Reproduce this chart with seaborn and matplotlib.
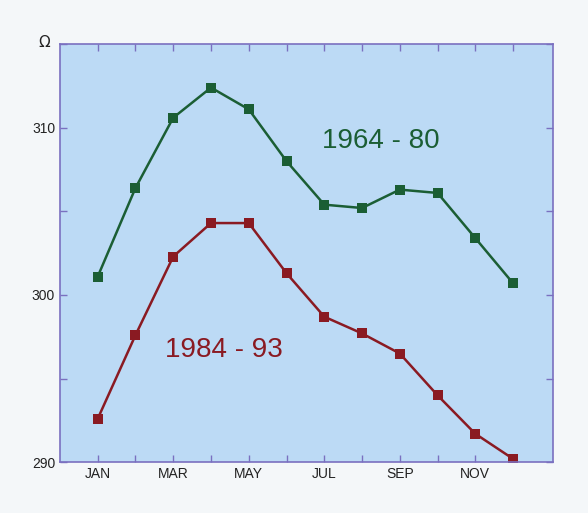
import matplotlib
matplotlib.use("Agg")
import matplotlib.pyplot as plt
import seaborn as sns
import pandas as pd
import numpy as np

months = list(range(1, 13))
tick_labels = ["JAN", "MAR", "MAY", "JUL", "SEP", "NOV"]
tick_positions = [1, 3, 5, 7, 9, 11]
green_vals = [301.1, 306.4, 310.6, 312.4, 311.1, 308.0, 305.4, 305.2, 306.3, 306.1, 303.4, 300.7]
red_vals = [292.6, 297.6, 302.3, 304.3, 304.3, 301.3, 298.7, 297.7, 296.5, 294.0, 291.7, 290.2]
series_names = ["1964 - 80", "1984 - 93"]

df = pd.DataFrame({
    "month": months * 2,
    "value": green_vals + red_vals,
    "period": [series_names[0]] * 12 + [series_names[1]] * 12,
})

sns.set_style("ticks")
plt.rcParams["font.family"] = ["Liberation Sans Narrow", "Liberation Sans", "DejaVu Sans"]

fig = plt.figure(figsize=(5.88, 5.13), dpi=100, facecolor="#f4f7f9")
ax = fig.add_axes([0.102, 0.099, 0.838, 0.815])
ax.set_facecolor("#bcdaf5")

green = "#1b5e34"
red = "#8a1a22"
sns.lineplot(data=df, x="month", y="value", hue="period",
             palette={series_names[0]: green, series_names[1]: red},
             marker="s", markersize=7, markeredgewidth=0, linewidth=1.8,
             legend=False, ax=ax)

ax.set_xlim(0, 13.05)
ax.set_ylim(290, 315)
ax.set_xticks(tick_positions)
ax.set_xticklabels(tick_labels)
ax.set_xticks(months, minor=True)
ax.set_yticks([290, 300, 310])
ax.set_yticks([295, 305, 315], minor=True)
ax.tick_params(axis="both", which="both", direction="in", colors="#7a70c0",
               labelcolor="#222222", labelsize=10, top=True, right=True, length=5, width=1)
ax.set_xlabel("")
ax.set_ylabel("")
for s in ax.spines.values():
    s.set_color("#7a70c0")
    s.set_linewidth(1.2)

ax.text(-0.42, 315.1, "Ω", ha="center", va="center", fontsize=11, color="#222222",
        family=["DejaVu Sans"])
ax.text(8.5, 309.2, series_names[0], color=green, fontsize=20, ha="center", va="center")
ax.text(4.35, 296.7, series_names[1], color=red, fontsize=20, ha="center", va="center")

fig.savefig("out.png", dpi=100, facecolor=fig.get_facecolor())
